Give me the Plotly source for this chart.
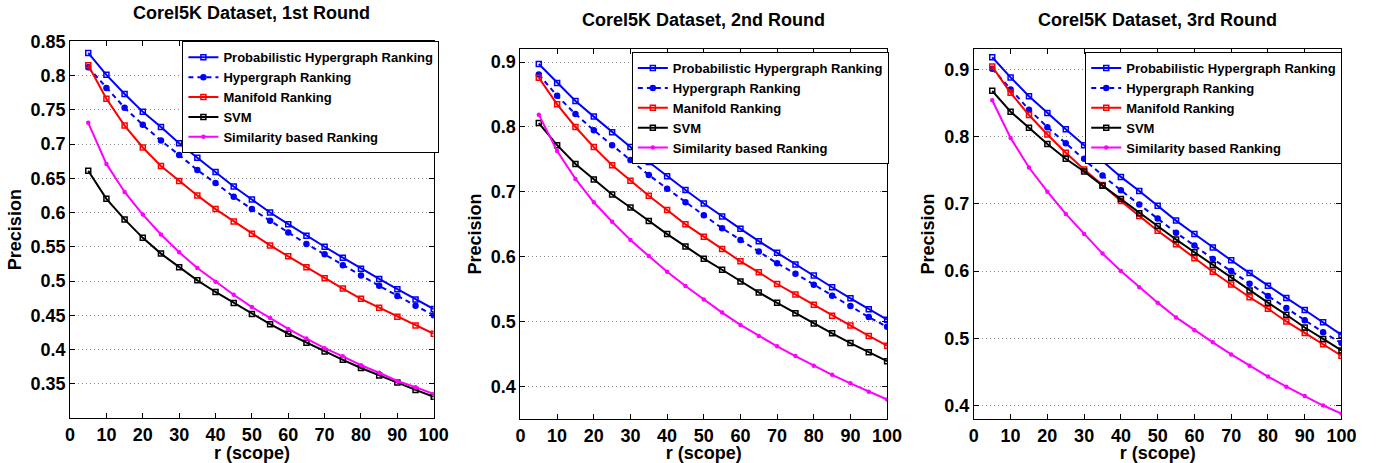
import plotly.graph_objects as go

r = [5, 10, 15, 20, 25, 30, 35, 40, 45, 50, 55, 60, 65, 70, 75, 80, 85, 90, 95, 100]

series_names = ["Probabilistic Hypergraph Ranking", "Hypergraph Ranking", "Manifold Ranking",
                "SVM", "Similarity based Ranking"]

# Round 1
r1_phr = [0.833, 0.801, 0.773, 0.747, 0.725, 0.701, 0.680, 0.659, 0.638, 0.619, 0.600, 0.583, 0.566, 0.550, 0.534, 0.518, 0.503, 0.488, 0.473, 0.459]
r1_hr = [0.812, 0.782, 0.753, 0.728, 0.705, 0.684, 0.662, 0.643, 0.623, 0.605, 0.588, 0.571, 0.554, 0.539, 0.523, 0.508, 0.493, 0.478, 0.464, 0.450]
r1_mr = [0.815, 0.766, 0.727, 0.695, 0.668, 0.646, 0.625, 0.605, 0.587, 0.569, 0.552, 0.536, 0.520, 0.504, 0.489, 0.474, 0.461, 0.448, 0.435, 0.423]
r1_svm = [0.661, 0.620, 0.590, 0.563, 0.540, 0.520, 0.501, 0.484, 0.468, 0.452, 0.437, 0.423, 0.410, 0.397, 0.385, 0.373, 0.362, 0.352, 0.341, 0.331]
r1_sbr = [0.731, 0.671, 0.630, 0.597, 0.568, 0.542, 0.519, 0.499, 0.480, 0.462, 0.446, 0.430, 0.416, 0.402, 0.390, 0.377, 0.366, 0.354, 0.345, 0.335]

# Round 2
r2_phr = [0.897, 0.868, 0.840, 0.816, 0.792, 0.769, 0.746, 0.724, 0.703, 0.682, 0.662, 0.643, 0.624, 0.606, 0.588, 0.571, 0.553, 0.536, 0.519, 0.503]
r2_hr = [0.881, 0.848, 0.820, 0.795, 0.772, 0.749, 0.726, 0.705, 0.684, 0.664, 0.644, 0.626, 0.608, 0.590, 0.574, 0.557, 0.540, 0.524, 0.507, 0.492]
r2_mr = [0.876, 0.835, 0.800, 0.769, 0.741, 0.717, 0.694, 0.672, 0.650, 0.631, 0.612, 0.593, 0.576, 0.558, 0.542, 0.526, 0.509, 0.494, 0.478, 0.463]
r2_svm = [0.806, 0.772, 0.743, 0.719, 0.696, 0.676, 0.655, 0.635, 0.616, 0.597, 0.580, 0.562, 0.545, 0.529, 0.513, 0.497, 0.482, 0.467, 0.453, 0.439]
r2_sbr = [0.819, 0.763, 0.720, 0.684, 0.654, 0.626, 0.601, 0.577, 0.555, 0.534, 0.514, 0.495, 0.478, 0.462, 0.447, 0.432, 0.418, 0.405, 0.392, 0.380]

# Round 3
r3_phr = [0.918, 0.888, 0.860, 0.835, 0.811, 0.787, 0.764, 0.740, 0.719, 0.697, 0.675, 0.655, 0.635, 0.616, 0.597, 0.578, 0.560, 0.542, 0.524, 0.505]
r3_hr = [0.901, 0.870, 0.840, 0.814, 0.790, 0.767, 0.742, 0.720, 0.699, 0.678, 0.657, 0.638, 0.618, 0.600, 0.581, 0.563, 0.545, 0.527, 0.509, 0.493]
r3_mr = [0.904, 0.865, 0.832, 0.803, 0.776, 0.751, 0.728, 0.704, 0.682, 0.660, 0.640, 0.619, 0.599, 0.580, 0.561, 0.544, 0.525, 0.508, 0.491, 0.474]
r3_svm = [0.868, 0.837, 0.813, 0.789, 0.767, 0.748, 0.727, 0.707, 0.686, 0.667, 0.647, 0.628, 0.609, 0.590, 0.571, 0.553, 0.535, 0.516, 0.499, 0.482]
r3_sbr = [0.854, 0.798, 0.754, 0.718, 0.685, 0.655, 0.626, 0.600, 0.576, 0.553, 0.531, 0.512, 0.494, 0.476, 0.459, 0.443, 0.428, 0.414, 0.400, 0.388]

titles = ["Corel5K Dataset, 1st Round", "Corel5K Dataset, 2nd Round", "Corel5K Dataset, 3rd Round"]
x_ticks = [0, 10, 20, 30, 40, 50, 60, 70, 80, 90, 100]
y_ticks_1 = [0.35, 0.4, 0.45, 0.5, 0.55, 0.6, 0.65, 0.7, 0.75, 0.8, 0.85]
y_ticks_1_text = ["0.35", "0.4", "0.45", "0.5", "0.55", "0.6", "0.65", "0.7", "0.75", "0.8", "0.85"]
y_ticks_23 = [0.4, 0.5, 0.6, 0.7, 0.8, 0.9]
y_ticks_23_text = ["0.4", "0.5", "0.6", "0.7", "0.8", "0.9"]

W, H = 1389, 463
FONT = "Liberation Sans, Arial, sans-serif"

panels = [
    dict(data=[r1_phr, r1_hr, r1_mr, r1_svm, r1_sbr], yrange=[0.3, 0.85],
         yt=y_ticks_1, ytt=y_ticks_1_text, px=(66, 435), py=(32, 417),
         leg=(180, 32), title_y=3),
    dict(data=[r2_phr, r2_hr, r2_mr, r2_svm, r2_sbr], yrange=[0.35, 0.92],
         yt=y_ticks_23, ytt=y_ticks_23_text, px=(523, 895), py=(40, 418),
         leg=(636, 43), title_y=10),
    dict(data=[r3_phr, r3_hr, r3_mr, r3_svm, r3_sbr], yrange=[0.38, 0.93],
         yt=y_ticks_23, ytt=y_ticks_23_text, px=(983, 1356), py=(40, 418),
         leg=(1096, 43), title_y=10),
]

styles = [
    dict(color="#0000ff", dash="solid", symbol="square-open", msize=5, width=2),
    dict(color="#0000ff", dash="5px,4px", symbol="circle", msize=5, width=2),
    dict(color="#ff0000", dash="solid", symbol="square-open", msize=5, width=2),
    dict(color="#000000", dash="solid", symbol="square-open", msize=5, width=2),
    dict(color="#ff00ff", dash="solid", symbol="circle", msize=3, width=2),
]

fig = go.Figure()
layout = dict(
    width=W, height=H, margin=dict(l=0, r=0, t=0, b=0),
    paper_bgcolor="white", plot_bgcolor="white",
    font=dict(family=FONT, size=18, color="black", weight="bold"),
    showlegend=True, annotations=[],
)

for i, p in enumerate(panels):
    k = "" if i == 0 else str(i + 1)
    legname = "legend" if i == 0 else "legend" + str(i + 1)
    for name, vals, st in zip(series_names, p["data"], styles):
        fig.add_trace(go.Scatter(
            x=r, y=vals, name=name, mode="lines+markers",
            xaxis="x" + k, yaxis="y" + k, legend=legname,
            line=dict(color=st["color"], dash=st["dash"], width=st["width"]),
            marker=dict(symbol=st["symbol"], size=st["msize"], color=st["color"],
                        line=dict(color=st["color"], width=1.5)),
        ))
    x0, x1 = p["px"]
    y0, y1 = p["py"]
    layout["xaxis" + k] = dict(
        domain=[x0 / W, x1 / W], anchor="y" + k, range=[0, 100],
        tickvals=x_ticks, ticks="inside", ticklen=5, tickcolor="black",
        showline=True, linecolor="black", linewidth=1, mirror="ticks",
        showgrid=False, zeroline=False,
        tickfont=dict(size=18, family=FONT, weight="bold"),
        title=dict(text="r (scope)", font=dict(size=18, family=FONT, weight="bold"), standoff=0),
    )
    layout["yaxis" + k] = dict(
        domain=[1 - y1 / H, 1 - y0 / H], anchor="x" + k, range=p["yrange"],
        tickvals=p["yt"], ticktext=p["ytt"], ticks="inside", ticklen=5, tickcolor="black",
        showline=True, linecolor="black", linewidth=1, mirror="ticks",
        showgrid=True, gridcolor="#8c8c8c", griddash="1px,3px", gridwidth=1, zeroline=False,
        tickfont=dict(size=18, family=FONT, weight="bold"),
        title=dict(text="Precision", font=dict(size=18, family=FONT, weight="bold"), standoff=4),
    )
    lx, ly = p["leg"]
    layout[legname] = dict(
        x=lx / W, y=1 - ly / H, xanchor="left", yanchor="top", xref="paper", yref="paper",
        bgcolor="white", bordercolor="black", borderwidth=1,
        font=dict(size=13, family=FONT, weight="bold"), tracegroupgap=0, itemwidth=30,
    )
    layout["annotations"].append(dict(
        text=titles[i], x=(x0 + x1) / 2 / W, y=1 - p["title_y"] / H, xref="paper", yref="paper",
        xanchor="center", yanchor="middle", showarrow=False,
        font=dict(size=18, family=FONT, weight="bold"),
    ))

fig.update_layout(**layout)
fig.write_html("out.html")
